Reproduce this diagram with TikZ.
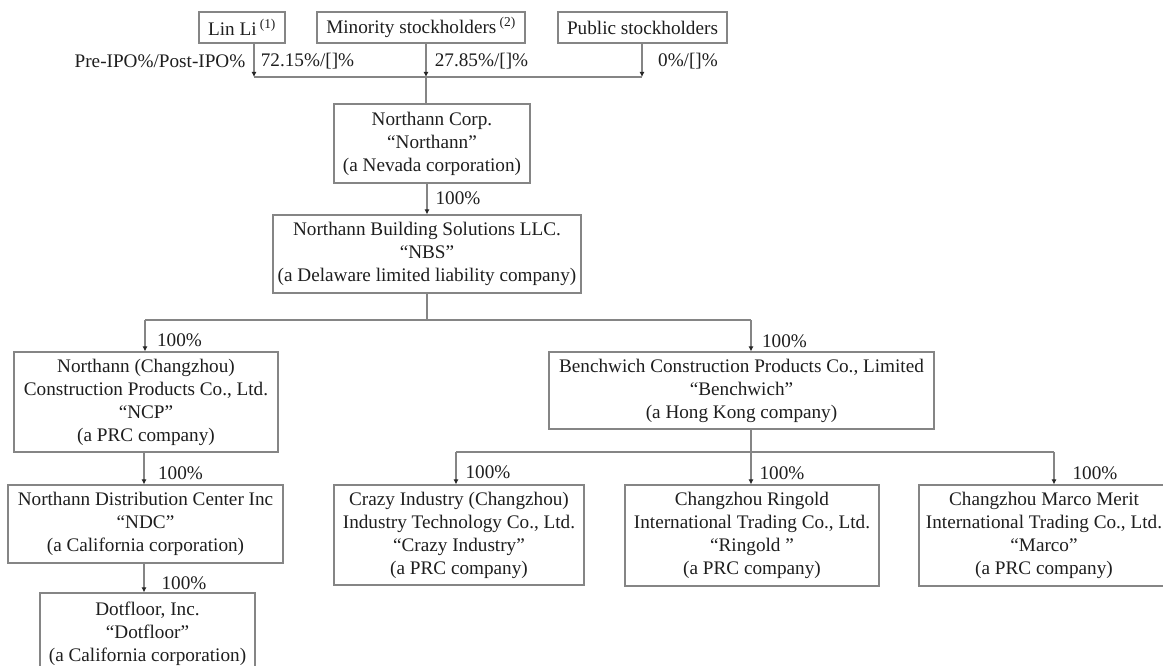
\documentclass[tikz,border=0pt]{standalone}
\usepackage{fontspec}
\setmainfont{Liberation Serif}
\usetikzlibrary{arrows.meta}
\definecolor{ln}{HTML}{858585}
\definecolor{tx}{HTML}{1E1E1E}
\begin{document}
\begin{tikzpicture}[x=1pt,y=-1pt,
  every node/.style={text=tx, font=\fontsize{19.2}{23}\selectfont},
  ent/.style={draw=ln, line width=1.1pt, align=center, inner sep=0pt},
  lab/.style={inner sep=0pt},
  link/.style={draw=ln, line width=1.1pt},
  arr/.style={link, -{Latex[length=5pt,width=5pt,color=black!85]}}]
\useasboundingbox (0,0) rectangle (1163,666);
\clip (0,0) rectangle (1163,666);
% entities
\node[ent, minimum width=86, minimum height=31] (linli) at (242,27.5) {Lin Li\,\textsuperscript{(1)}};
\node[ent, minimum width=208, minimum height=31] (minor) at (421,27.5) {Minority stockholders\,\textsuperscript{(2)}};
\node[ent, minimum width=169, minimum height=31] (public) at (642.5,27.5) {Public stockholders};
\node[ent, minimum width=196, minimum height=79] (northann) at (432,143.5) {Northann Corp.\\“Northann”\\(a Nevada corporation)};
\node[ent, minimum width=308, minimum height=78] (nbs) at (427,254) {Northann Building Solutions LLC.\\“NBS”\\(a Delaware limited liability company)};
\node[ent, minimum width=264, minimum height=100] (ncp) at (146,402) {Northann (Changzhou)\\Construction Products Co., Ltd.\\“NCP”\\(a PRC company)};
\node[ent, minimum width=275, minimum height=78] (ndc) at (145.5,524) {Northann Distribution Center Inc\\“NDC”\\(a California corporation)};
\node[ent, minimum width=215, minimum height=81] (dot) at (147.5,633.5) {Dotfloor, Inc.\\“Dotfloor”\\(a California corporation)};
\node[ent, minimum width=385, minimum height=77] (bench) at (741.5,390.5) {Benchwich Construction Products Co., Limited\\“Benchwich”\\(a Hong Kong company)};
\node[ent, minimum width=250, minimum height=100] (crazy) at (459,535) {Crazy Industry (Changzhou)\\Industry Technology Co., Ltd.\\“Crazy Industry”\\(a PRC company)};
\node[ent, minimum width=254, minimum height=101] (ring) at (752,535.5) {Changzhou Ringold\\International Trading Co., Ltd.\\“Ringold ”\\(a PRC company)};
\node[ent, minimum width=250, minimum height=101] (marco) at (1044,535.5) {Changzhou Marco Merit\\International Trading Co., Ltd.\\“Marco”\\(a PRC company)};
% top bus
\coordinate (t1) at (254,77);
\coordinate (t2) at (426,77);
\coordinate (t3) at (642,77);
\draw[arr] (linli.south -| t1) -- (t1);
\draw[arr] (minor.south -| t2) -- (t2);
\draw[arr] (public.south -| t3) -- (t3);
\draw[link] (t1) -- (t3);
\draw[link] (t2) -- (northann.north -| t2);
% Northann -> NBS
\coordinate (c1) at (427,0);
\draw[arr] (c1 |- northann.south) -- (c1 |- nbs.north);
% NBS bus
\coordinate (m0) at (145,320);
\coordinate (m1) at (427,320);
\coordinate (m2) at (751,320);
\draw[link] (nbs.south -| m1) -- (m1);
\draw[link] (m0) -- (m2);
\draw[arr] (m0) -- (m0 |- ncp.north);
\draw[arr] (m2) -- (m2 |- bench.north);
% left chain
\coordinate (v1) at (144,0);
\draw[arr] (v1 |- ncp.south) -- (v1 |- ndc.north);
\draw[arr] (v1 |- ndc.south) -- (v1 |- dot.north);
% Benchwich bus
\coordinate (b0) at (456,452);
\coordinate (b1) at (751,452);
\coordinate (b2) at (1054,452);
\draw[link] (bench.south -| b1) -- (b1);
\draw[link] (b0) -- (b2);
\draw[arr] (b0) -- (b0 |- crazy.north);
\draw[arr] (b1) -- (b1 |- ring.north);
\draw[arr] (b2) -- (b2 |- marco.north);
% labels
\node[lab] (pl) at (160,61) {Pre-IPO\%/Post-IPO\%};
\node[lab] (p1) at (307.5,61) {72.15\%/[]\%};
\node[lab] (p2) at (481.5,61) {27.85\%/[]\%};
\node[lab] (p3) at (688,61) {0\%/[]\%};
\node[lab] (l1) at (458,198) {100\%};
\node[lab] (l2) at (179.5,340) {100\%};
\node[lab] (l3) at (784.5,341) {100\%};
\node[lab] (l4) at (180.5,473) {100\%};
\node[lab] (l5) at (184,583) {100\%};
\node[lab] (l6) at (488,472) {100\%};
\node[lab] (l7) at (782,473) {100\%};
\node[lab] (l8) at (1095,473) {100\%};
\end{tikzpicture}
\end{document}
